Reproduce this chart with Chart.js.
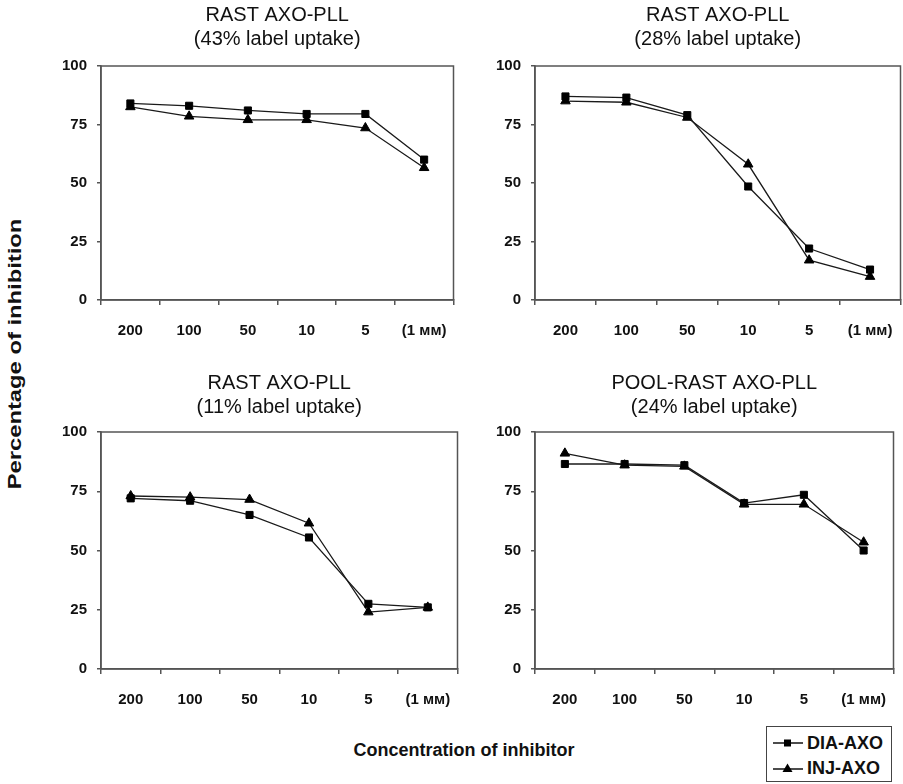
<!DOCTYPE html>
<html>
<head>
<meta charset="utf-8">
<title>RAST AXO-PLL inhibition</title>
<script src="https://cdn.jsdelivr.net/npm/chart.js@4.4.1/dist/chart.umd.min.js"></script>
<style>
  html, body { margin: 0; padding: 0; background: #fff; overflow: hidden; }
  body { position: relative; width: 903px; height: 784px; font-family: 'Liberation Sans', Arial, sans-serif; color: #111; }
  canvas { position: absolute; }
  #c1 { left: 41px; top: 0px; }
  #c2 { left: 475px; top: 0px; }
  #c3 { left: 41px; top: 368px; }
  #c4 { left: 475px; top: 368px; }
  .axis-title { position: absolute; font-weight: bold; font-size: 18px; white-space: nowrap; }
  #ylab { left: 15px; top: 354px; transform: translate(-50%, -50%) rotate(-90deg) scaleX(1.32); }
  #xlab { left: 464px; top: 750px; transform: translate(-50%, -50%); }
  #legend { position: absolute; left: 766px; top: 726px; width: 126px; height: 56px; border: 1px solid #444; box-sizing: border-box; }
  #legend .item { position: absolute; left: 6px; height: 20px; display: flex; align-items: center; font-weight: bold; font-size: 18px; }
  #legend svg { margin-right: 4px; }
</style>
</head>
<body>
<canvas id="c1" width="419" height="345"></canvas>
<canvas id="c2" width="432" height="345"></canvas>
<canvas id="c3" width="423" height="346"></canvas>
<canvas id="c4" width="425" height="346"></canvas>

<div id="ylab" class="axis-title">Percentage of inhibition</div>
<div id="xlab" class="axis-title">Concentration of inhibitor</div>

<div id="legend">
  <div class="item" style="top: 6px;">
    <svg width="30" height="12"><line x1="0" y1="6" x2="30" y2="6" stroke="#111" stroke-width="1.5"/><rect x="11" y="2.5" width="7" height="7" fill="#000"/></svg>
    <span>DIA-AXO</span>
  </div>
  <div class="item" style="top: 31px;">
    <svg width="30" height="12"><line x1="0" y1="7" x2="30" y2="7" stroke="#111" stroke-width="1.5"/><polygon points="14.5,1.5 19.5,10 9.5,10" fill="#000"/></svg>
    <span>INJ-AXO</span>
  </div>
</div>

<script>
const categories = ['200', '100', '50', '10', '5', '(1 мм)'];

// 43% label uptake
const dia43 = [84, 83, 81, 79.5, 79.5, 60];
const inj43 = [82.5, 78.5, 77, 77, 73.5, 56.5];

// 28% label uptake
const dia28 = [87, 86.5, 79, 48.5, 22, 13];
const inj28 = [85, 84.5, 78, 58, 17, 10];

// 11% label uptake
const dia11 = [72, 71, 65, 55.5, 27.5, 26];
const inj11 = [73, 72.5, 71.5, 61.5, 24, 26];

// pool, 24% label uptake
const dia24 = [86.5, 86.5, 86, 70, 73.5, 50];
const inj24 = [91, 86, 85.5, 69.5, 69.5, 53.5];

const yTicks = [0, 25, 50, 75, 100];

Chart.defaults.font.family = "'Liberation Sans', Arial, sans-serif";
Chart.defaults.color = '#111';

// box round the plot area
const frame = {
  id: 'frame',
  beforeDatasetsDraw(chart) {
    const { ctx, chartArea: a } = chart;
    ctx.save();
    ctx.strokeStyle = '#555';
    ctx.lineWidth = 1.5;
    ctx.strokeRect(a.left, a.top, a.right - a.left, a.bottom - a.top);
    ctx.restore();
  }
};

function panel(id, title, dia, inj, titlePad) {
  return new Chart(document.getElementById(id), {
    type: 'line',
    data: {
      labels: categories,
      datasets: [
        {
          label: 'DIA-AXO',
          data: dia,
          borderColor: '#1a1a1a',
          borderWidth: 1.3,
          pointStyle: 'rect',
          pointRadius: 5,
          pointBackgroundColor: '#000',
          pointBorderColor: '#000',
          pointBorderWidth: 1
        },
        {
          label: 'INJ-AXO',
          data: inj,
          borderColor: '#1a1a1a',
          borderWidth: 1.3,
          pointStyle: 'triangle',
          pointRadius: 5.5,
          pointBackgroundColor: '#000',
          pointBorderColor: '#000',
          pointBorderWidth: 1
        }
      ]
    },
    options: {
      responsive: false,
      animation: false,
      layout: { padding: { top: 0, right: 2, bottom: 0, left: 0 } },
      plugins: {
        legend: { display: false },
        tooltip: { enabled: false },
        title: {
          display: true,
          text: title,
          fullSize: false,
          color: '#111',
          font: { size: 20, weight: 'normal', lineHeight: 1.2 },
          padding: titlePad
        }
      },
      scales: {
        x: {
          offset: true,
          grid: { offset: true, drawOnChartArea: false, tickLength: 5, color: '#555', lineWidth: 1.5 },
          border: { color: '#555', width: 1.5 },
          ticks: { font: { size: 15, weight: 'bold' }, color: '#111', padding: 17, maxRotation: 0, autoSkip: false },
          afterFit: s => { s.height = 45; s.paddingLeft = 0; s.paddingRight = 0; }
        },
        y: {
          min: 0,
          max: 100,
          afterBuildTicks: s => { s.ticks = yTicks.map(v => ({ value: v })); },
          grid: { drawOnChartArea: false, tickLength: 4, color: '#555', lineWidth: 1.5 },
          border: { color: '#555', width: 1.5 },
          ticks: { font: { size: 15, weight: 'bold' }, color: '#111', padding: 10 },
          afterFit: s => { s.width = 60; s.paddingTop = 0; s.paddingBottom = 0; }
        }
      }
    },
    plugins: [frame]
  });
}

panel('c1', ['RAST AXO-PLL', '(43% label uptake)'], dia43, inj43, { top: 3, bottom: 15 });
panel('c2', ['RAST AXO-PLL', '(28% label uptake)'], dia28, inj28, { top: 3, bottom: 15 });
panel('c3', ['RAST AXO-PLL', '(11% label uptake)'], dia11, inj11, { top: 3, bottom: 13 });
panel('c4', ['POOL-RAST AXO-PLL', '(24% label uptake)'], dia24, inj24, { top: 3, bottom: 13 });
</script>
</body>
</html>
